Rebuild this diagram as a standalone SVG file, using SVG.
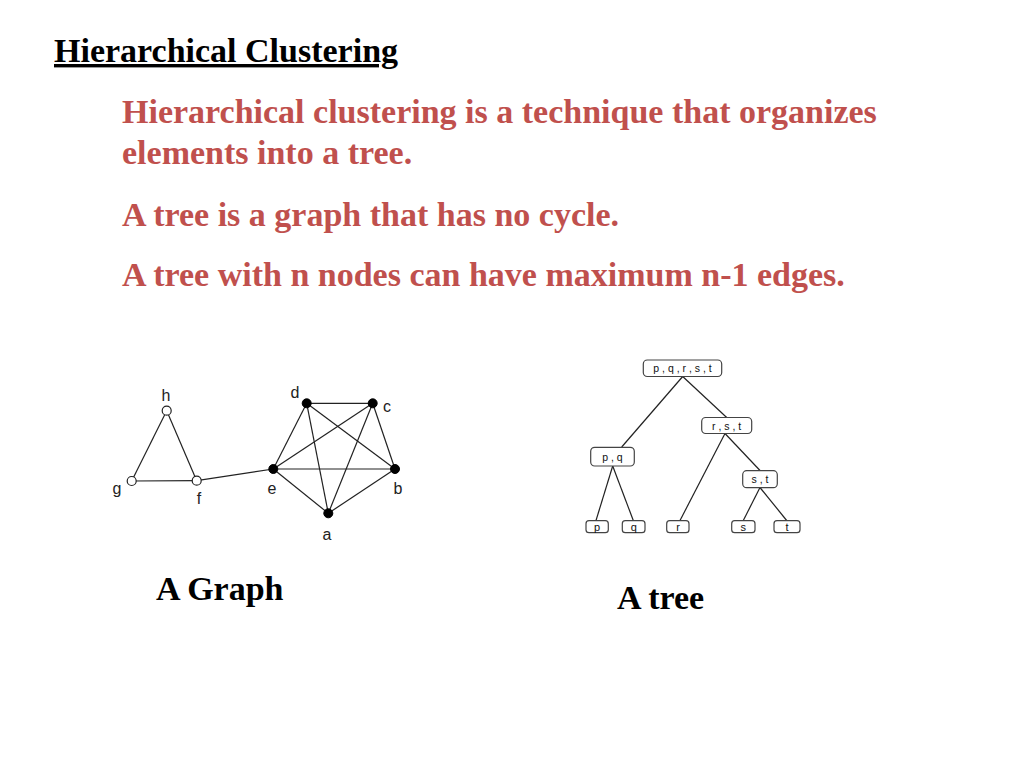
<svg xmlns="http://www.w3.org/2000/svg" width="1024" height="768" viewBox="0 0 1024 768">
<style>
.title{font-family:"Liberation Serif","Times New Roman",serif;font-weight:bold;font-size:34px;fill:#000;text-decoration:underline}
.red{font-family:"Liberation Serif","Times New Roman",serif;font-weight:bold;font-size:34px;fill:#c0504d}
.cap{font-family:"Liberation Serif","Times New Roman",serif;font-weight:bold;font-size:34px;fill:#000}
.lbl{font-family:"Liberation Sans",Arial,sans-serif;font-size:16px;fill:#222;text-anchor:middle}
.edge{stroke:#222;stroke-width:1.2;fill:none}
.open{fill:#fff;stroke:#222;stroke-width:1.2}
.full{fill:#000;stroke:#000;stroke-width:1}
.box{fill:#fff;stroke:#444;stroke-width:1.2}
.tl{font-family:"Liberation Sans",Arial,sans-serif;font-size:10.5px;fill:#111;text-anchor:middle}
.tleaf{font-family:"Liberation Sans",Arial,sans-serif;font-size:11px;fill:#111;text-anchor:middle}
</style>
<rect width="1024" height="768" fill="#fff"/>
<text class="title" x="54" y="62">Hierarchical Clustering</text>
<text class="red" x="122" y="123">Hierarchical clustering is a technique that organizes</text>
<text class="red" x="122" y="164">elements into a tree.</text>
<text class="red" x="122" y="226">A tree is a graph that has no cycle.</text>
<text class="red" x="122" y="286">A tree with n nodes can have maximum n-1 edges.</text>
<text class="cap" x="156" y="600">A Graph</text>
<text class="cap" x="617" y="609">A tree</text>
<g id="graph-edges">
<line class="edge" x1="166.7" y1="410.7" x2="131.7" y2="481"/>
<line class="edge" x1="166.7" y1="410.7" x2="196.7" y2="480.7"/>
<line class="edge" x1="131.7" y1="481" x2="196.7" y2="480.7"/>
<line class="edge" x1="196.7" y1="480.7" x2="273.3" y2="469"/>
<line class="edge" x1="306.7" y1="403.3" x2="372.7" y2="403.3"/>
<line class="edge" x1="306.7" y1="403.3" x2="273.3" y2="469"/>
<line class="edge" x1="306.7" y1="403.3" x2="395" y2="469"/>
<line class="edge" x1="306.7" y1="403.3" x2="328.3" y2="513.3"/>
<line class="edge" x1="372.7" y1="403.3" x2="273.3" y2="469"/>
<line class="edge" x1="372.7" y1="403.3" x2="328.3" y2="513.3"/>
<line class="edge" x1="372.7" y1="403.3" x2="395" y2="469"/>
<line class="edge" x1="273.3" y1="469" x2="395" y2="469"/>
<line class="edge" x1="273.3" y1="469" x2="328.3" y2="513.3"/>
<line class="edge" x1="395" y1="469" x2="328.3" y2="513.3"/>
</g>
<g id="node-h"><circle class="open" cx="166.7" cy="410.7" r="4.5"/><text class="lbl" x="166" y="401">h</text></g>
<g id="node-g"><circle class="open" cx="131.7" cy="481" r="4.5"/><text class="lbl" x="117" y="494">g</text></g>
<g id="node-f"><circle class="open" cx="196.7" cy="480.7" r="4.5"/><text class="lbl" x="199" y="504">f</text></g>
<g id="node-d"><circle class="full" cx="306.7" cy="403.3" r="4.5"/><text class="lbl" x="295" y="398">d</text></g>
<g id="node-c"><circle class="full" cx="372.7" cy="403.3" r="4.5"/><text class="lbl" x="387" y="412">c</text></g>
<g id="node-e"><circle class="full" cx="273.3" cy="469" r="4.5"/><text class="lbl" x="272" y="494">e</text></g>
<g id="node-b"><circle class="full" cx="395" cy="469" r="4.5"/><text class="lbl" x="398" y="494">b</text></g>
<g id="node-a"><circle class="full" cx="328.3" cy="513.3" r="4.5"/><text class="lbl" x="327" y="540">a</text></g>
<g id="tree-edges">
<line class="edge" x1="682.7" y1="376.5" x2="621.7" y2="447"/>
<line class="edge" x1="682.7" y1="376.5" x2="726.7" y2="417.5"/>
<line class="edge" x1="612.7" y1="466" x2="596" y2="520.5"/>
<line class="edge" x1="612.7" y1="466" x2="633.3" y2="520.5"/>
<line class="edge" x1="725" y1="433.5" x2="680" y2="520.5"/>
<line class="edge" x1="725" y1="433.5" x2="760" y2="470.5"/>
<line class="edge" x1="760" y1="487.5" x2="743.3" y2="520.5"/>
<line class="edge" x1="760" y1="487.5" x2="786.7" y2="520.5"/>
</g>
<g id="t-root"><rect class="box" x="643.3" y="360" width="78.4" height="16.5" rx="4"/><text class="tl" x="682.5" y="372">p , q , r , s , t</text></g>
<g id="t-rst"><rect class="box" x="701.7" y="417.5" width="50" height="16" rx="4"/><text class="tl" x="726.7" y="429.5">r , s , t</text></g>
<g id="t-pq"><rect class="box" x="590.7" y="447.3" width="43.6" height="18.7" rx="4"/><text class="tl" x="612.5" y="460.5">p , q</text></g>
<g id="t-st"><rect class="box" x="742.7" y="470.7" width="34.6" height="17" rx="4"/><text class="tl" x="760" y="483">s , t</text></g>
<g id="t-p"><rect class="box" x="586" y="520.7" width="22.3" height="12" rx="3"/><text class="tleaf" x="597" y="530.5">p</text></g>
<g id="t-q"><rect class="box" x="622.3" y="520.7" width="22.7" height="12" rx="3"/><text class="tleaf" x="633.7" y="530.5">q</text></g>
<g id="t-r"><rect class="box" x="666.7" y="520.7" width="22.3" height="12" rx="3"/><text class="tleaf" x="678" y="530.5">r</text></g>
<g id="t-s"><rect class="box" x="731.7" y="520.7" width="23.3" height="12" rx="3"/><text class="tleaf" x="743.3" y="530.5">s</text></g>
<g id="t-t"><rect class="box" x="774" y="520.7" width="26" height="12" rx="3"/><text class="tleaf" x="787" y="530.5">t</text></g>
</svg>
